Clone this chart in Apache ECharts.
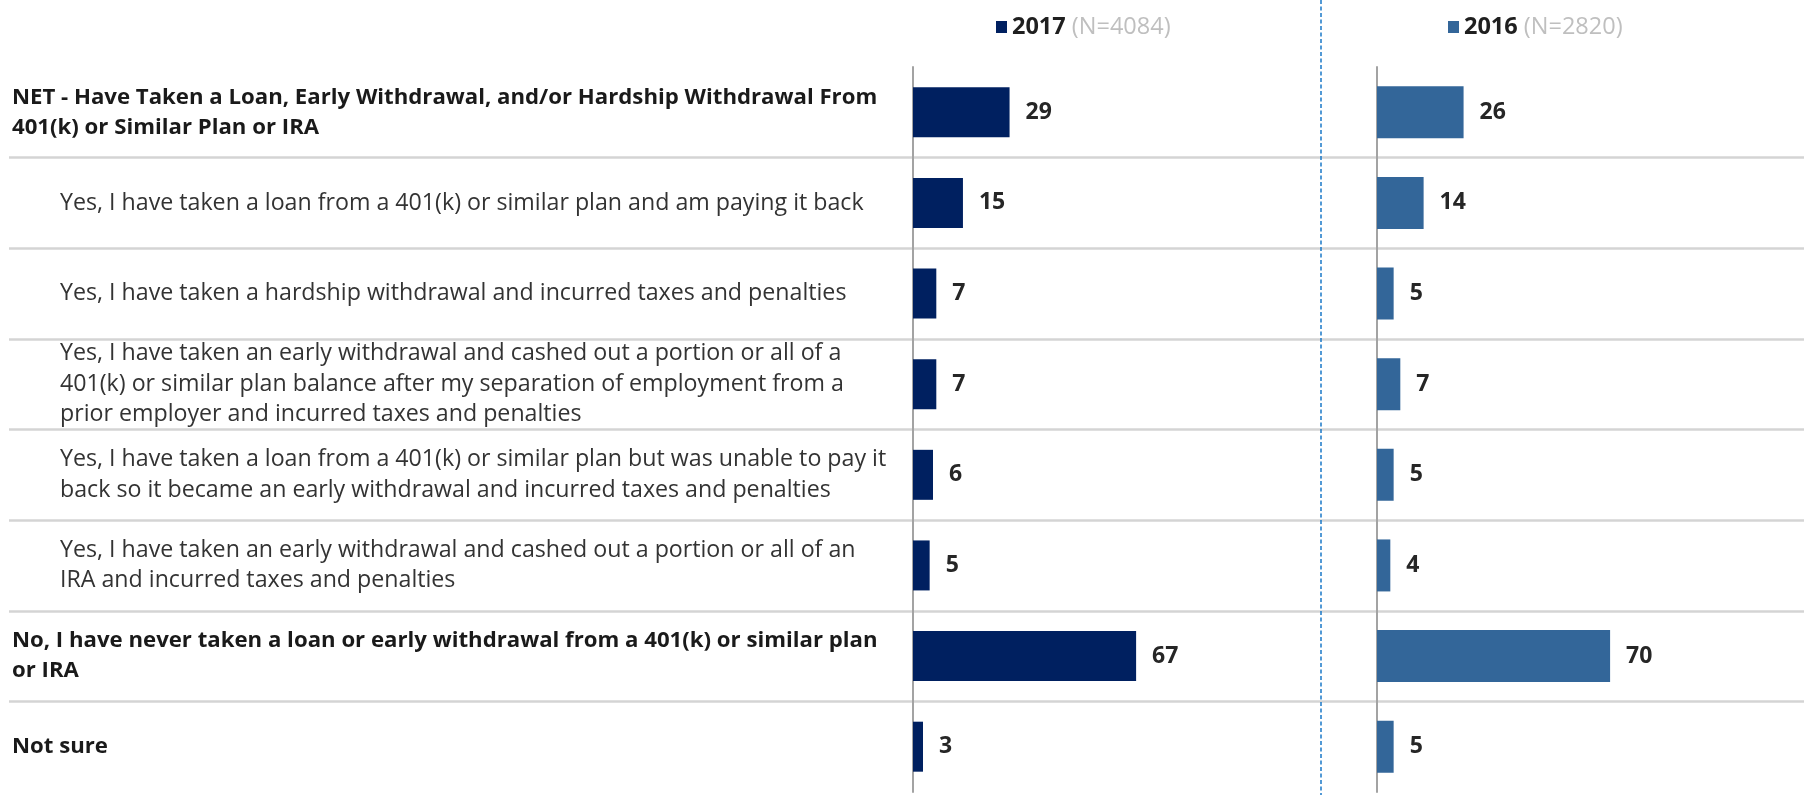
<!DOCTYPE html>
<html>
<head>
<meta charset="utf-8">
<style>
html,body{margin:0;padding:0;background:#ffffff;}
#chart{width:1804px;height:795px;}
</style>
<script src="https://cdn.jsdelivr.net/npm/echarts@6/dist/echarts.min.js"></script>
</head>
<body>
<div id="chart"></div>
<script>
// ---- data ----
const categories = [
  'NET - Have Taken a Loan, Early Withdrawal, and/or Hardship Withdrawal From\n401(k) or Similar Plan or IRA',
  'Yes, I have taken a loan from a 401(k) or similar plan and am paying it back',
  'Yes, I have taken a hardship withdrawal and incurred taxes and penalties',
  'Yes, I have taken an early withdrawal and cashed out a portion or all of a\n401(k) or similar plan balance after my separation of employment from a\nprior employer and incurred taxes and penalties',
  'Yes, I have taken a loan from a 401(k) or similar plan but was unable to pay it\nback so it became an early withdrawal and incurred taxes and penalties',
  'Yes, I have taken an early withdrawal and cashed out a portion or all of an\nIRA and incurred taxes and penalties',
  'No, I have never taken a loan or early withdrawal from a 401(k) or similar plan\nor IRA',
  'Not sure'
];
const boldRows = [true, false, false, false, false, false, true, true];
const seriesNames = ['2017', '2016'];
const sampleSizes = ['(N=4084)', '(N=2820)'];
const values2017 = [29, 15, 7, 7, 6, 5, 67, 3];
const values2016 = [26, 14, 5, 7, 5, 4, 70, 5];

// ---- chart ----
const FONT = '"Open Sans", "Liberation Sans", sans-serif';
const chart = echarts.init(document.getElementById('chart'), null, {renderer: 'canvas'});

const GRID_TOP = 67, GRID_H = 725;

function catLabel(value, index) {
  const st = boldRows[index] ? 'b' : 'n';
  return value.split('\n').map(l => '{' + st + '|' + l + '}').join('\n');
}

function legendFmt(name) {
  const i = seriesNames.indexOf(name);
  return '{y|' + name + '}{s| ' + sampleSizes[i] + '}';
}

const legendRich = {
  y: {fontFamily: FONT, fontWeight: 'bold', fontSize: 23.5, color: '#1f1f1f'},
  s: {fontFamily: FONT, fontSize: 23.5, color: '#bfbfbf'}
};

const option = {
  backgroundColor: '#ffffff',
  animation: false,
  textStyle: {fontFamily: FONT},
  legend: [
    {data: [seriesNames[0]], left: 991, top: 10, icon: 'rect', itemWidth: 11, itemHeight: 12, itemGap: 6,
     selectedMode: false, formatter: legendFmt, textStyle: {rich: legendRich}},
    {data: [seriesNames[1]], left: 1443, top: 10, icon: 'rect', itemWidth: 11, itemHeight: 12, itemGap: 6,
     selectedMode: false, formatter: legendFmt, textStyle: {rich: legendRich}}
  ],
  grid: [
    {left: 9, right: 0, top: GRID_TOP, height: GRID_H, containLabel: false},
    {left: 913, width: 333, top: GRID_TOP, height: GRID_H, containLabel: false},
    {left: 1377, width: 333, top: GRID_TOP, height: GRID_H, containLabel: false}
  ],
  xAxis: [
    {gridIndex: 0, type: 'value', min: 0, max: 1, show: false},
    {gridIndex: 1, type: 'value', min: 0, max: 100, show: false},
    {gridIndex: 2, type: 'value', min: 0, max: 100, show: false}
  ],
  yAxis: [
    {
      gridIndex: 0, type: 'category', data: categories, inverse: true,
      axisLine: {show: false}, axisTick: {show: false},
      splitLine: {show: true, showMinLine: false, showMaxLine: false,
                  lineStyle: {color: '#d4d4d4', width: 2.5}},
      axisLabel: {
        inside: true, margin: 3, align: 'left', verticalAlign: 'middle', interval: 0,
        formatter: catLabel,
        rich: {
          b: {fontFamily: FONT, fontWeight: 'bold', fontSize: 22.2, color: '#1a1a1a', lineHeight: 30},
          n: {fontFamily: FONT, fontSize: 23.2, color: '#333333', lineHeight: 30.5, padding: [0, 0, 0, 48]}
        }
      }
    },
    {
      gridIndex: 1, type: 'category', data: categories, inverse: true,
      axisLine: {show: true, lineStyle: {color: '#a3a3a3', width: 2}},
      axisTick: {show: false}, axisLabel: {show: false}, splitLine: {show: false}
    },
    {
      gridIndex: 2, type: 'category', data: categories, inverse: true,
      axisLine: {show: true, lineStyle: {color: '#a3a3a3', width: 2}},
      axisTick: {show: false}, axisLabel: {show: false}, splitLine: {show: false}
    }
  ],
  series: [
    {
      name: seriesNames[0], type: 'bar', xAxisIndex: 1, yAxisIndex: 1,
      data: values2017, barWidth: 50,
      itemStyle: {color: '#002060'},
      label: {show: true, position: 'right', distance: 16, fontFamily: FONT, fontWeight: 'bold',
              fontSize: 23, color: '#262626'}
    },
    {
      name: seriesNames[1], type: 'bar', xAxisIndex: 2, yAxisIndex: 2,
      data: values2016, barWidth: 52,
      itemStyle: {color: '#336699'},
      label: {show: true, position: 'right', distance: 16, fontFamily: FONT, fontWeight: 'bold',
              fontSize: 23, color: '#262626'}
    }
  ],
  graphic: [
    {type: 'line', z: 100, shape: {x1: 1321, y1: 0, x2: 1321, y2: 795},
     style: {stroke: '#1a78c8', lineWidth: 1.5, lineDash: [4, 2.5]}}
  ]
};

chart.setOption(option);
</script>
</body>
</html>
